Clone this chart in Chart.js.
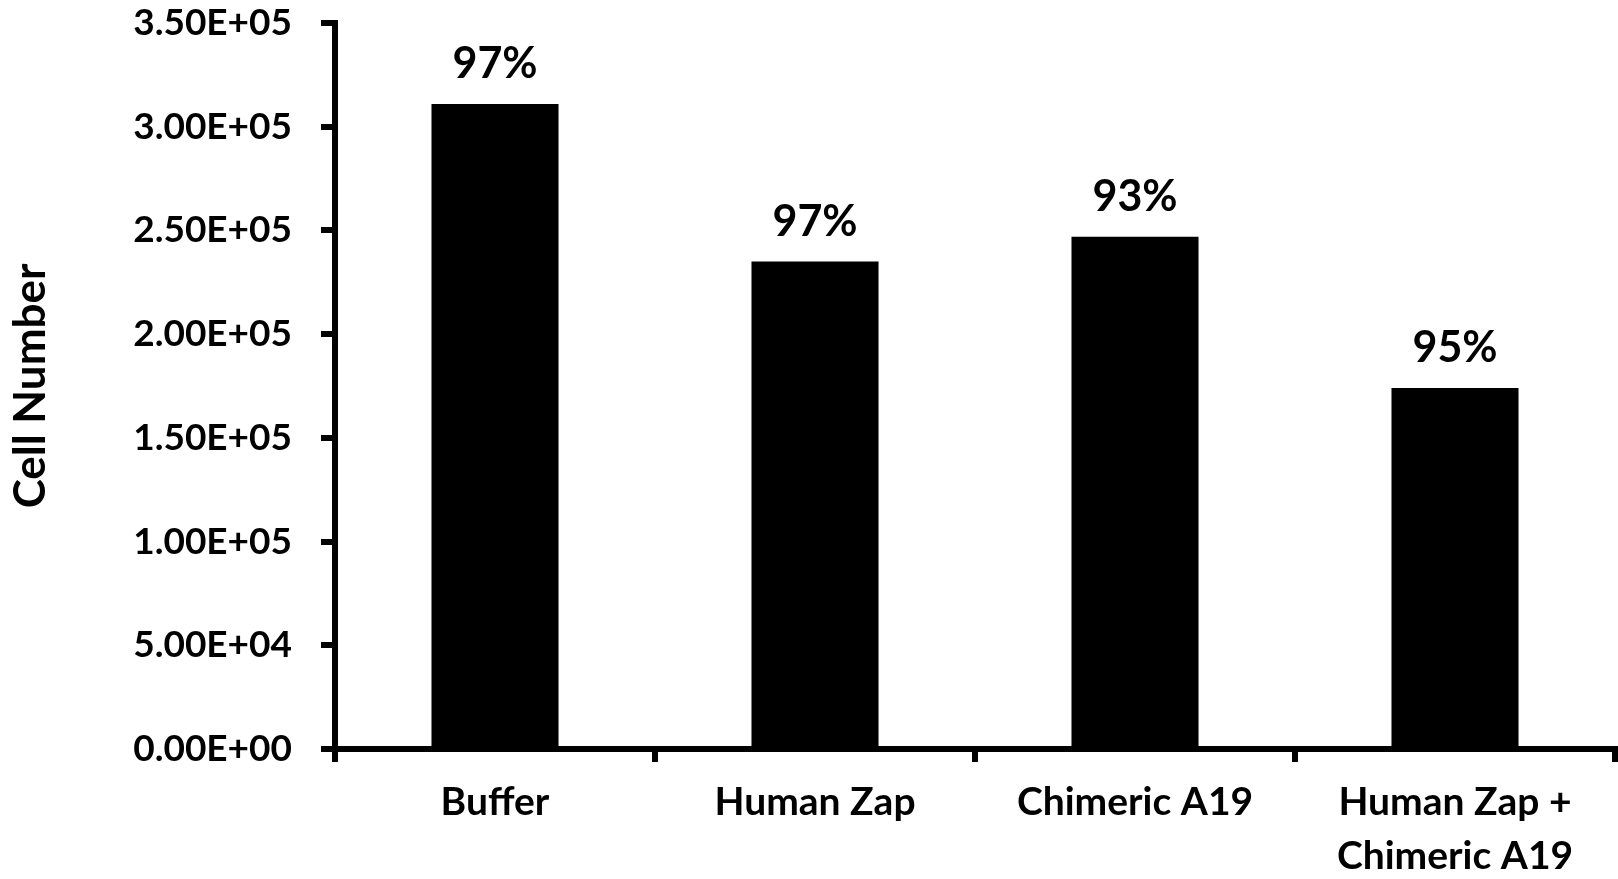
<!DOCTYPE html>
<html>
<head>
<meta charset="utf-8">
<script src="https://cdn.jsdelivr.net/npm/chart.js@4"></script>
<style>
  html, body { margin: 0; padding: 0; background: #fff; }
  #wrap { width: 1618px; height: 879px; position: relative; }
</style>
</head>
<body>
<div id="wrap"><canvas id="c" width="1618" height="879"></canvas></div>
<script>
const categories = ['Buffer', 'Human Zap', 'Chimeric A19', ['Human Zap +', 'Chimeric A19']];
const cellNumbers = [311000, 235000, 247000, 174000];
const viabilityLabels = ['97%', '97%', '93%', '95%'];
const yTickLabels = ['0.00E+00', '5.00E+04', '1.00E+05', '1.50E+05', '2.00E+05', '2.50E+05', '3.00E+05', '3.50E+05'];
const yAxisTitle = 'Cell Number';

const FONT = 'Lato, "Open Sans", "Liberation Sans", sans-serif';

const pctPlugin = {
  id: 'pctLabels',
  afterDatasetsDraw(chart) {
    const ctx = chart.ctx;
    const meta = chart.getDatasetMeta(0);
    ctx.save();
    ctx.fillStyle = '#000';
    ctx.font = 'bold 43px ' + FONT;
    ctx.textAlign = 'center';
    ctx.textBaseline = 'alphabetic';
    meta.data.forEach((bar, i) => {
      ctx.fillText(viabilityLabels[i], bar.x, bar.y - 26);
    });
    ctx.restore();
  }
};

new Chart(document.getElementById('c'), {
  type: 'bar',
  data: {
    labels: categories,
    datasets: [{
      data: cellNumbers,
      backgroundColor: '#000',
      borderWidth: 0,
      categoryPercentage: 1.0,
      barPercentage: 0.397
    }]
  },
  options: {
    responsive: false,
    animation: false,
    layout: { padding: { top: 23, right: 3, left: 0, bottom: 0 } },
    plugins: { legend: { display: false }, tooltip: { enabled: false } },
    scales: {
      x: {
        grid: {
          offset: true,
          drawOnChartArea: false,
          drawTicks: true,
          tickLength: 13,
          color: '#000',
          lineWidth: 6
        },
        border: { display: true, color: '#000', width: 6 },
        ticks: {
          color: '#000',
          font: { family: FONT, size: 39, weight: 'bold', lineHeight: 1.38 },
          padding: 14,
          maxRotation: 0,
          autoSkip: false
        },
        afterFit(scale) { scale.height = 130; scale.paddingLeft = 0; scale.paddingRight = 0; }
      },
      y: {
        min: 0,
        max: 350000,
        grid: {
          drawOnChartArea: false,
          drawTicks: true,
          tickLength: 14,
          color: '#000',
          lineWidth: 6
        },
        border: { display: true, color: '#000', width: 6 },
        ticks: {
          stepSize: 50000,
          color: '#000',
          font: { family: FONT, size: 37, weight: 'bold' },
          padding: 29,
          callback: (v, i) => yTickLabels[i]
        },
        title: {
          display: true,
          text: yAxisTitle,
          color: '#000',
          font: { family: FONT, size: 44, weight: 'bold' },
          padding: { top: 4, bottom: 0 }
        },
        afterFit(scale) { scale.width = 335; scale.paddingTop = 0; scale.paddingBottom = 0; }
      }
    }
  },
  plugins: [pctPlugin]
});
</script>
</body>
</html>
